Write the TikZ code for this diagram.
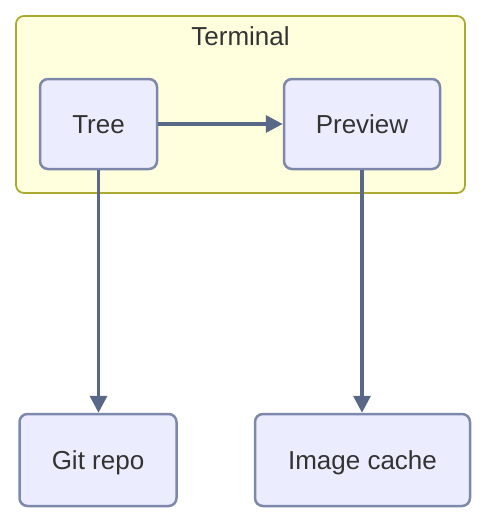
\documentclass[tikz,border=0pt]{standalone}
\usepackage{fontspec}
\setmainfont{Liberation Sans}
\usetikzlibrary{arrows.meta}
\definecolor{nodefill}{HTML}{ECECFF}
\definecolor{nodeline}{HTML}{7D88AA}
\definecolor{edgecol}{HTML}{5A6888}
\definecolor{grpfill}{HTML}{FFFFDE}
\definecolor{grpline}{HTML}{AAAA33}
\definecolor{txt}{HTML}{333333}
\tikzset{
  box/.style={draw=nodeline, fill=nodefill, line width=2.5pt, rounded corners=8pt, text=txt, font=\fontsize{26}{30}\selectfont, inner sep=0pt, text height=18.7pt, text depth=0pt},
  edge/.style={draw=edgecol, line width=3.5pt, -{Triangle[length=17pt,width=17pt]}},
}
\begin{document}
\begin{tikzpicture}[x=1pt,y=-1pt]
\useasboundingbox (0,0) rectangle (486,522);
\node[draw=grpline, fill=grpfill, line width=1.8pt, rounded corners=8pt, minimum width=449pt, minimum height=177pt, inner sep=0pt] (term) at (240.5,104.5) {};
\node[text=txt, font=\fontsize{26}{30}\selectfont, anchor=base] (termlbl) at (240.5,45) {Terminal};
\node[box, minimum width=117pt, minimum height=90pt] (tree) at (98.5,124) {Tree};
\node[box, minimum width=156pt, minimum height=90pt] (preview) at (362,124) {Preview};
\node[box, minimum width=157pt, minimum height=92pt] (git) at (98,460) {Git repo};
\node[box, minimum width=215pt, minimum height=92pt] (cache) at (362.5,460) {Image cache};
\draw[edge] (tree) -- (preview);
\draw[edge] (tree.south) -- (tree.south |- git.north);
\draw[edge] (preview.south) -- (preview.south |- cache.north);
\end{tikzpicture}
\end{document}
